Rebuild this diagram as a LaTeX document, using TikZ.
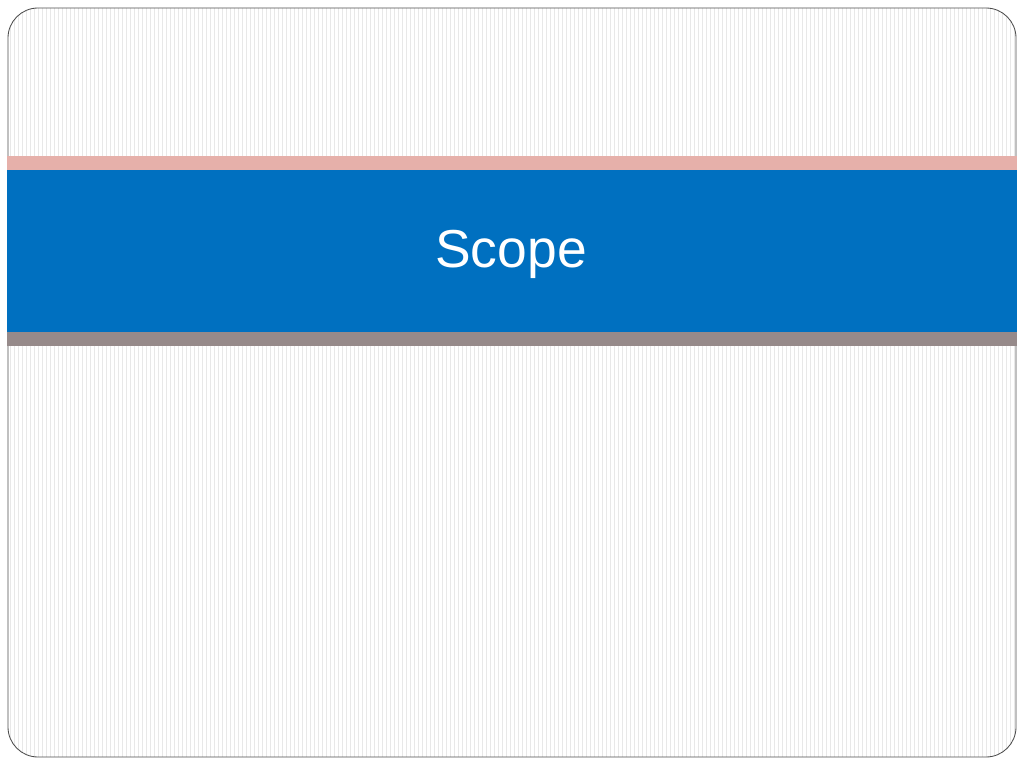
\documentclass[tikz,border=0pt]{standalone}
\usepackage{fontspec}
\setmainfont{Liberation Sans}
\usetikzlibrary{fit}
\definecolor{bandblue}{RGB}{0,112,192}
\definecolor{bandpink}{RGB}{230,176,170}
\definecolor{bandgray}{RGB}{150,138,138}
\definecolor{stripe}{RGB}{232,232,232}
\begin{document}
\begin{tikzpicture}[x=0.025cm, y=-0.025cm,
    frame/.style={draw=black!70, line width=0.6pt, rounded corners=0.75cm}]
  \useasboundingbox (0,0) rectangle (1024,768);
  % striped background inside the frame
  \begin{scope}
    \clip[rounded corners=0.75cm] (8,8) rectangle (1016,757);
    \foreach \x in {10,14,...,1014}
      \draw[stripe, line width=0.4pt] (\x,8) -- (\x,757);
  \end{scope}
  \coordinate (tl) at (8,8);
  \coordinate (br) at (1016,757);
  \node (frame) [frame, fit=(tl) (br), inner sep=0pt] {};
  % title bands
  \fill[bandpink] (7,156) rectangle (1017,170);
  \fill[bandblue] (7,170) rectangle (1017,332);
  \fill[bandgray] (7,332) rectangle (1017,346);
  \node (title) [white, font=\fontsize{38}{46}\selectfont] at (511,254) {Scope};
\end{tikzpicture}
\end{document}
